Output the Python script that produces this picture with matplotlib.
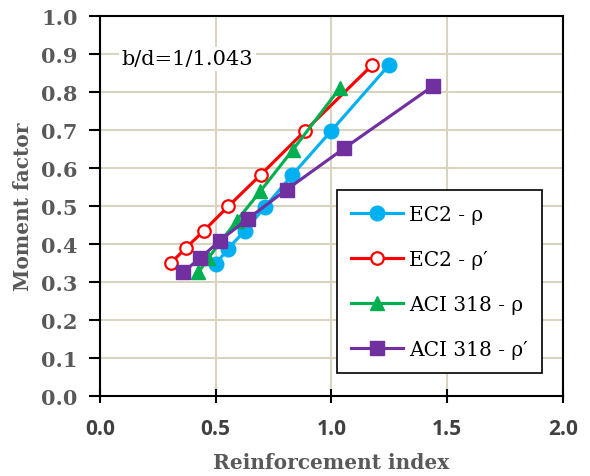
import matplotlib.pyplot as plt

plt.rcParams['font.family'] = ['DejaVu Serif']

# Reinforcement index / moment factor pairs for each design code
ec2_rho_x = [0.500, 0.552, 0.626, 0.713, 0.831, 0.998, 1.250]
ec2_rho_y = [0.347, 0.387, 0.435, 0.498, 0.582, 0.697, 0.872]

ec2_rhop_x = [0.305, 0.370, 0.449, 0.554, 0.694, 0.886, 1.176]
ec2_rhop_y = [0.349, 0.389, 0.435, 0.499, 0.582, 0.698, 0.871]

aci_rho_x = [0.425, 0.468, 0.590, 0.693, 0.832, 1.037]
aci_rho_y = [0.325, 0.363, 0.461, 0.539, 0.647, 0.811]

aci_rhop_x = [0.360, 0.432, 0.518, 0.638, 0.806, 1.055, 1.437]
aci_rhop_y = [0.327, 0.362, 0.409, 0.466, 0.543, 0.652, 0.815]

x_ticks = [0.0, 0.5, 1.0, 1.5, 2.0]
y_ticks = [i / 10 for i in range(11)]

fig = plt.figure(figsize=(5.9, 4.77), dpi=100)
ax = fig.add_axes([0.1695, 0.1677, 0.7847, 0.7967])

ax.plot(ec2_rho_x, ec2_rho_y, color='#00B0F0', lw=2.25, marker='o', ms=10.5,
        label='EC2 - ρ', zorder=3)
ax.plot(ec2_rhop_x, ec2_rhop_y, color='#FF0000', lw=2.25, marker='o', ms=9,
        mfc='white', mec='#FF0000', mew=1.6, label='EC2 - ρ′', zorder=3)
ax.plot(aci_rho_x, aci_rho_y, color='#00B050', lw=2.25, marker='^', ms=10.5,
        label='ACI 318 - ρ', zorder=3)
ax.plot(aci_rhop_x, aci_rhop_y, color='#7030A0', lw=2.25, marker='s', ms=10,
        label='ACI 318 - ρ′', zorder=3)

ax.set_xlim(0, 2)
ax.set_ylim(0, 1)
ax.set_xticks(x_ticks)
ax.set_yticks(y_ticks)
ax.set_xticklabels([f'{v:.1f}' for v in x_ticks], family='Open Sans',
                   fontweight='bold', fontsize=15, color='#404040')
ax.set_yticklabels([f'{v:.1f}' for v in y_ticks], fontweight='bold',
                   fontsize=15, color='#595959')
ax.tick_params(axis='x', direction='inout', length=10, width=1.5, pad=11)
ax.tick_params(axis='y', direction='out', length=8, width=1.5, pad=8)

ax.grid(True, color='#D9D4C0', lw=1.5)
ax.set_axisbelow(True)
for s in ax.spines.values():
    s.set_linewidth(1.5)
    s.set_color('black')

ax.set_xlabel('Reinforcement index', fontsize=14.5, fontweight='bold',
              color='#595959', labelpad=9)
ax.set_ylabel('Moment factor', fontsize=14.5, fontweight='bold',
              color='#595959', labelpad=6)

ax.text(0.094, 0.887, 'b/d=1/1.043', fontsize=15, va='center', ha='left',
        bbox=dict(facecolor='white', edgecolor='none', pad=2), zorder=2)

leg = ax.legend(loc='lower right', bbox_to_anchor=(0.955, 0.06), fontsize=14.5,
                fancybox=False, framealpha=1, edgecolor='black',
                handlelength=2.6, handletextpad=0.3, labelspacing=1.3,
                borderpad=0.7, borderaxespad=0)
leg.get_frame().set_linewidth(1.2)

fig.savefig('out.png', dpi=100)
